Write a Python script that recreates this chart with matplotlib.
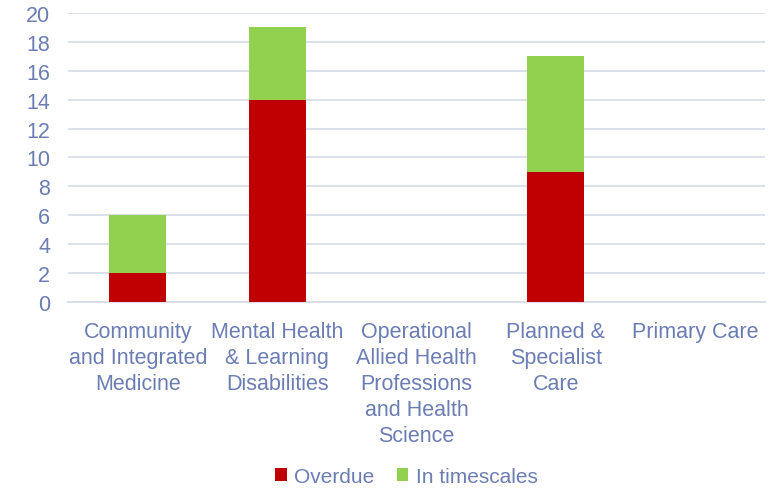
import matplotlib
matplotlib.use("Agg")
import matplotlib.pyplot as plt
import numpy as np

categories = [
    "Community\nand Integrated\nMedicine",
    "Mental Health\n& Learning\nDisabilities",
    "Operational\nAllied Health\nProfessions\nand Health\nScience",
    "Planned &\nSpecialist\nCare",
    "Primary Care",
]
overdue = [2, 14, 0, 9, 0]
in_timescales = [4, 5, 0, 8, 0]
yticks = [0, 2, 4, 6, 8, 10, 12, 14, 16, 18, 20]

text_color = "#6B7DB3"
grid_color = "#D9DCEA"
red = "#C00000"
green = "#92D050"

plt.rcParams["font.family"] = ["Liberation Sans", "DejaVu Sans"]

fig = plt.figure(figsize=(7.74, 4.89), dpi=100)
ax = fig.add_axes([0.088, 0.3804, 0.9, 0.591])

x = np.arange(len(categories))
width = 0.41
ax.bar(x, overdue, width, color=red, label="Overdue", zorder=3)
ax.bar(x, in_timescales, width, bottom=overdue, color=green,
       label="In timescales", zorder=3)

ax.set_xlim(-0.5, len(categories) - 0.5)
ax.set_ylim(0, 20)
ax.set_yticks(yticks)
ax.yaxis.grid(True, color=grid_color, linewidth=1.3, zorder=0)
ax.set_axisbelow(True)

for s in ["top", "right", "left"]:
    ax.spines[s].set_visible(False)
ax.spines["bottom"].set_color(grid_color)
ax.spines["bottom"].set_linewidth(1.3)

ax.tick_params(axis="both", length=0, labelsize=15.5, colors=text_color)
ax.tick_params(axis="y", pad=13)
ax.tick_params(axis="x", pad=14)
ax.set_xticks(x)
ax.set_xticklabels(categories, linespacing=1.3, va="top")

leg = fig.legend(loc="lower center", bbox_to_anchor=(0.525, -0.025), ncol=2,
                 frameon=False, fontsize=15, handlelength=0.55,
                 handleheight=0.55, handletextpad=0.35, columnspacing=1.1,
                 borderaxespad=0.3)
for t in leg.get_texts():
    t.set_color(text_color)

fig.savefig("out.png", dpi=100)
